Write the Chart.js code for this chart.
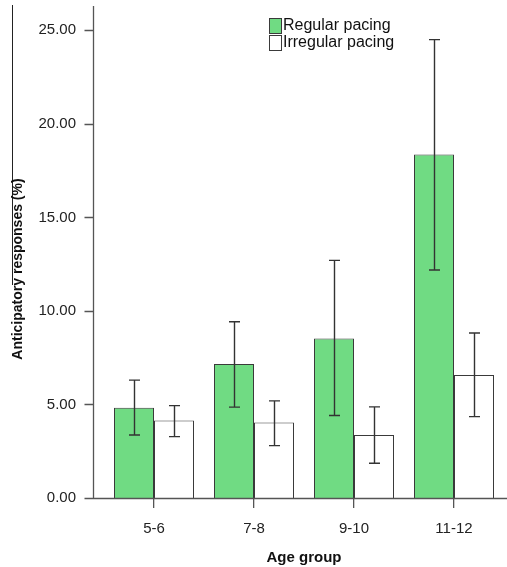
<!DOCTYPE html>
<html>
<head>
<meta charset="utf-8">
<script src="https://cdn.jsdelivr.net/npm/chart.js@4/dist/chart.umd.min.js"></script>
<style>
  html, body { margin: 0; padding: 0; background: #fff; }
  #wrap { width: 507px; height: 567px; }
</style>
</head>
<body>
<div id="wrap"><canvas id="c" width="507" height="567"></canvas></div>
<script>
// ---- data ----
const categories = ['5-6', '7-8', '9-10', '11-12'];
const seriesNames = ['Regular pacing', 'Irregular pacing'];
const regular = [4.83, 7.16, 8.53, 18.36];
const regularLo = [3.37, 4.86, 4.41, 12.19];
const regularHi = [6.30, 9.42, 12.70, 24.50];
const irregular = [4.14, 4.03, 3.37, 6.57];
const irregularLo = [3.28, 2.80, 1.86, 4.35];
const irregularHi = [4.94, 5.19, 4.87, 8.82];
const yTicks = [0, 5, 10, 15, 20, 25];
const yTitle = 'Anticipatory responses (%)';
const xTitle = 'Age group';

const FONT = '"Liberation Sans", Arial, sans-serif';
const GREEN = '#70DB83';
const EDGE = '#3a3a3a';
const AXIS = '#555555';

const decor = {
  id: 'decor',
  afterDatasetsDraw(chart) {
    const ctx = chart.ctx;
    const ys = chart.scales.y;
    const area = chart.chartArea;
    ctx.save();
    // error bars
    ctx.strokeStyle = '#333333';
    ctx.lineWidth = 1.4;
    const errs = [[regularLo, regularHi], [irregularLo, irregularHi]];
    errs.forEach((pair, di) => {
      const meta = chart.getDatasetMeta(di);
      meta.data.forEach((bar, i) => {
        const cx = Math.round(bar.x) + 0.5;
        const yt = ys.getPixelForValue(pair[1][i]);
        const yb = ys.getPixelForValue(pair[0][i]);
        ctx.beginPath();
        ctx.moveTo(cx, yt); ctx.lineTo(cx, yb);
        ctx.moveTo(cx - 5.5, yt); ctx.lineTo(cx + 5.5, yt);
        ctx.moveTo(cx - 5.5, yb); ctx.lineTo(cx + 5.5, yb);
        ctx.stroke();
      });
    });
    // axes
    const y0 = Math.round(ys.getPixelForValue(0)) + 0.5;
    const ax = area.left - 10.5;
    ctx.strokeStyle = AXIS;
    ctx.lineWidth = 1.3;
    ctx.beginPath();
    ctx.moveTo(ax, area.top); ctx.lineTo(ax, y0);
    ctx.moveTo(ax - 9, y0); ctx.lineTo(chart.width, y0);
    yTicks.forEach(v => {
      const py = Math.round(ys.getPixelForValue(v)) + 0.5;
      ctx.moveTo(ax - 9, py); ctx.lineTo(ax, py);
    });
    ctx.stroke();
    // left edge line (from source figure)
    ctx.strokeStyle = '#222';
    ctx.lineWidth = 1;
    ctx.beginPath();
    ctx.moveTo(12.5, 5); ctx.lineTo(12.5, 285);
    ctx.stroke();
    // y title
    ctx.save();
    ctx.translate(18, 269);
    ctx.rotate(-Math.PI / 2);
    ctx.fillStyle = '#111';
    ctx.font = 'bold 14px ' + FONT;
    ctx.textAlign = 'center';
    ctx.textBaseline = 'middle';
    ctx.fillText(yTitle, 0, 0);
    ctx.restore();
    // legend
    const ds = chart.data.datasets;
    ds.forEach((d, i) => {
      const by = 18 + i * 17;
      ctx.fillStyle = d.backgroundColor;
      ctx.fillRect(269, by, 12, 15);
      ctx.strokeStyle = EDGE;
      ctx.lineWidth = 1;
      ctx.strokeRect(269.5, by + 0.5, 12, 15);
      ctx.fillStyle = '#111';
      ctx.font = '16px ' + FONT;
      ctx.textAlign = 'left';
      ctx.textBaseline = 'middle';
      ctx.fillText(d.label, 283, by + 8);
    });
    ctx.restore();
  }
};

new Chart(document.getElementById('c'), {
  type: 'bar',
  data: {
    labels: categories,
    datasets: [
      { label: seriesNames[0], data: regular, backgroundColor: GREEN, borderColor: EDGE, borderWidth: 1 },
      { label: seriesNames[1], data: irregular, backgroundColor: '#ffffff', borderColor: EDGE, borderWidth: 1 }
    ]
  },
  options: {
    responsive: false,
    animation: false,
    devicePixelRatio: 1,
    layout: { padding: { top: 6, right: 3, left: 0, bottom: 0 } },
    datasets: { bar: { barPercentage: 1.0, categoryPercentage: 0.8 } },
    plugins: { legend: { display: false }, tooltip: { enabled: false } },
    scales: {
      x: {
        offset: true,
        border: { display: false },
        grid: { display: true, drawOnChartArea: false, drawTicks: true, tickLength: 10, offset: false, color: AXIS, lineWidth: 1.3 },
        ticks: { font: { family: FONT, size: 15 }, color: '#222', padding: 12, maxRotation: 0 },
        title: { display: true, text: xTitle, font: { family: FONT, size: 15, weight: 'bold' }, color: '#111', padding: { top: 4, bottom: 0 } },
        afterFit(s) { s.height = 69; s.paddingLeft = 0; s.paddingRight = 0; }
      },
      y: {
        min: 0,
        max: 26.3,
        border: { display: false },
        grid: { display: false, drawTicks: false },
        afterBuildTicks(s) { s.ticks = yTicks.map(v => ({ value: v })); },
        ticks: { font: { family: FONT, size: 15 }, color: '#222', padding: 28, callback: v => Number(v).toFixed(2) },
        afterFit(s) { s.width = 104; s.paddingTop = 0; s.paddingBottom = 0; }
      }
    }
  },
  plugins: [decor]
});
</script>
</body>
</html>
